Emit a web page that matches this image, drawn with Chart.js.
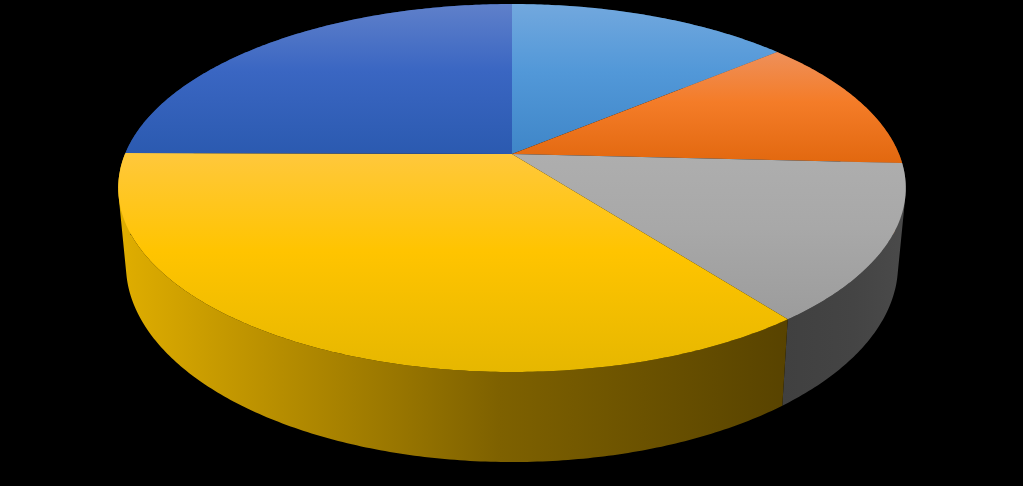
<!DOCTYPE html>
<html lang="en">
<head>
<meta charset="UTF-8">
<title>Pie</title>
<style>
html, body { margin: 0; background: #000; overflow: hidden; }
canvas { display: block; }
</style>
</head>
<body>
<canvas id="myChart" width="1023" height="486"></canvas>
<script src="https://cdn.jsdelivr.net/npm/chart.js"></script>
<script>
const categories = ['A', 'B', 'C', 'D', 'E'];
const values = [13.9, 11.9, 13.8, 35.5, 24.9];

// colours of the top face, top to bottom of each slice
const topColors = [
    ['#72a8de', '#5298d8', '#3f86c8'],
    ['#ee905a', '#f47c28', '#e2680f'],
    ['#aeaeae', '#a8a8a8', '#9c9c9c'],
    ['#ffc83c', '#ffc400', '#e6b700'],
    ['#5f80ca', '#3a66c2', '#2b5ab0']
];
// colours of the side wall, left to right
const wallColors = [
    ['#2a4f70', '#2a4f70', '#2a4f70'],
    ['#7a3d10', '#7a3d10', '#7a3d10'],
    ['#404040', '#444444', '#4a4a4a'],
    ['#e0ae00', '#7e6100', '#584300'],
    ['#1e3d78', '#1e3d78', '#1e3d78']
];

// flattened perspective of the disc: apex on screen, half sizes, depth factor
const persp = 0.1848;
const topDisc = { x: 512, y: 154, a: 387, b: 177.7 };
const lowDisc = { x: 512, y: 228.6, a: 379.4, b: 190.3 };

function project(d, theta) {
    const u = Math.sin(theta), v = -Math.cos(theta);
    const w = 1 - persp * v;
    return [d.x + d.a * u / w, d.y + d.b * v / w];
}

function rim(d, from, to) {
    const pts = [];
    const n = Math.max(2, Math.ceil((to - from) * 90));
    for (let i = 0; i <= n; i++) pts.push(project(d, from + (to - from) * i / n));
    return pts;
}

function addPoly(ctx, pts) {
    pts.forEach((p, i) => i ? ctx.lineTo(p[0], p[1]) : ctx.moveTo(p[0], p[1]));
    ctx.closePath();
}

function area(pts) {
    let s = 0;
    pts.forEach((p, i) => {
        const q = pts[(i + 1) % pts.length];
        s += p[0] * q[1] - q[0] * p[1];
    });
    return s;
}

const pie3d = {
    id: 'pie3d',
    beforeDatasetsDraw(chart) {
        const ctx = chart.ctx;
        const arcs = chart.getDatasetMeta(0).data;
        const slices = arcs.map((arc, i) => ({
            i,
            from: arc.startAngle + Math.PI / 2,
            to: arc.endAngle + Math.PI / 2
        }));
        ctx.save();
        // walls back to front, then the top face covers what is behind it
        const order = slices.slice().sort((p, q) =>
            -Math.cos((p.from + p.to) / 2) + Math.cos((q.from + q.to) / 2));
        order.forEach(s => {
            const upper = rim(topDisc, s.from, s.to);
            const lower = rim(lowDisc, s.from, s.to);
            const xs = upper.concat(lower).map(p => p[0]);
            const g = ctx.createLinearGradient(Math.min(...xs), 0, Math.max(...xs), 0);
            g.addColorStop(0, wallColors[s.i][0]);
            g.addColorStop(0.57, wallColors[s.i][1]);
            g.addColorStop(1, wallColors[s.i][2]);
            // one path of same-winding quads, so the strips leave no seams
            ctx.beginPath();
            for (let k = 0; k < upper.length - 1; k++) {
                const quad = [upper[k], upper[k + 1], lower[k + 1], lower[k]];
                addPoly(ctx, area(quad) < 0 ? quad.reverse() : quad);
            }
            ctx.fillStyle = g;
            ctx.fill();
        });
        slices.forEach(s => {
            const pts = [[topDisc.x, topDisc.y]].concat(rim(topDisc, s.from, s.to));
            const ys = pts.map(p => p[1]);
            const g = ctx.createLinearGradient(0, Math.min(...ys), 0, Math.max(...ys));
            g.addColorStop(0, topColors[s.i][0]);
            g.addColorStop(0.45, topColors[s.i][1]);
            g.addColorStop(1, topColors[s.i][2]);
            ctx.beginPath();
            addPoly(ctx, pts);
            ctx.fillStyle = g;
            ctx.fill();
        });
        ctx.restore();
        return false;
    }
};

new Chart(document.getElementById('myChart'), {
    type: 'pie',
    data: {
        labels: categories,
        datasets: [{ data: values, borderWidth: 0 }]
    },
    options: {
        responsive: false,
        devicePixelRatio: 1,
        animation: false,
        plugins: {
            legend: { display: false },
            tooltip: { enabled: false }
        }
    },
    plugins: [pie3d]
});
</script>
</body>
</html>
